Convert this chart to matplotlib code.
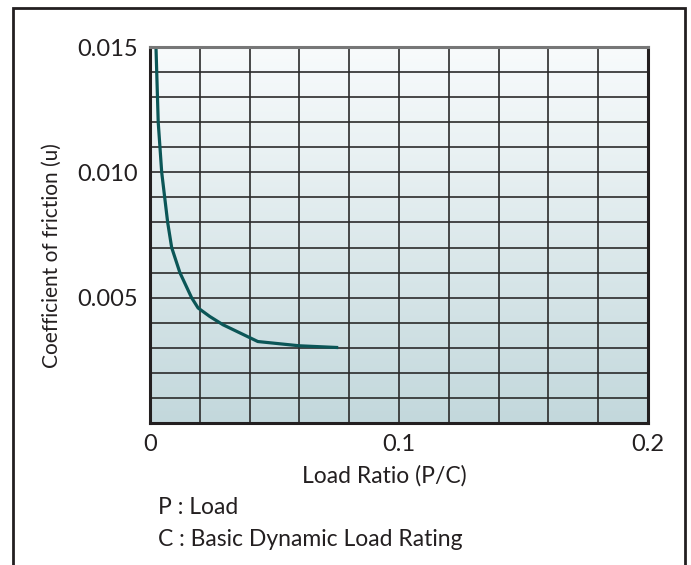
import numpy as np
import matplotlib
matplotlib.use("Agg")
import matplotlib.pyplot as plt
from matplotlib.colors import LinearSegmentedColormap
from matplotlib.patches import Rectangle

plt.rcParams['font.family'] = ['Lato', 'DejaVu Sans']

# curve: load ratio (P/C) vs. coefficient of friction
load_ratio = [0.0024, 0.0027, 0.0033, 0.0047, 0.0071, 0.0087, 0.0120,
              0.0167, 0.0193, 0.0240, 0.0293, 0.0433, 0.0600, 0.0756]
friction = [0.0150, 0.0140, 0.0120, 0.0100, 0.0080, 0.0070, 0.0060,
            0.0050, 0.00459, 0.00425, 0.00392, 0.00325, 0.00308, 0.00301]

x_ticks = [0, 0.1, 0.2]
x_ticklabels = ["0", "0.1", "0.2"]
y_ticks = [0.005, 0.010, 0.015]
y_ticklabels = ["0.005", "0.010", "0.015"]

INK = "#231f20"
CURVE = "#0b5657"

W, H = 691, 565
fig = plt.figure(figsize=(W / 100, H / 100), dpi=100, facecolor="white")
ax = fig.add_axes([150 / W, 1 - 423 / H, (648 - 150) / W, (423 - 47) / H])

# vertical gradient background
cmap = LinearSegmentedColormap.from_list("bg", ["#c3d8dc", "#f8fbfc"])
grad = np.linspace(0, 1, 256).reshape(-1, 1)
ax.imshow(grad, cmap=cmap, aspect="auto", origin="lower",
          extent=[0, 1, 0, 1], transform=ax.transAxes, zorder=0)

ax.plot(load_ratio, friction, color=CURVE, lw=2.3, zorder=4,
        solid_capstyle="butt")

ax.set_xlim(0, 0.2)
ax.set_ylim(0, 0.015)
ax.set_xticks(x_ticks)
ax.set_xticklabels(x_ticklabels)
ax.set_yticks(y_ticks)
ax.set_yticklabels(y_ticklabels)
ax.set_xticks(np.arange(0, 0.2001, 0.02), minor=True)
ax.set_yticks(np.arange(0, 0.01501, 0.001), minor=True)
ax.grid(True, which="both", color="#2b2b2b", lw=1.2, zorder=2)
ax.set_axisbelow(False)
ax.tick_params(which="both", length=0, labelsize=17, colors=INK)
ax.tick_params(axis="x", pad=8)
ax.tick_params(axis="y", pad=9)

for s in ("left", "bottom", "right"):
    ax.spines[s].set_color(INK)
    ax.spines[s].set_linewidth(2.2)
ax.spines["top"].set_color("#777777")
ax.spines["top"].set_linewidth(2.2)
for sp in ax.spines.values():
    sp.set_zorder(5)

fig.text(52 / W, 1 - 256 / H, "Coefficient of friction (u)", fontsize=15,
         color=INK, rotation=90, ha="center", va="center")

fig.text(384 / W, 1 - 476 / H, "Load Ratio (P/C)", fontsize=16.5, color=INK,
         ha="center", va="center")
fig.text(158 / W, 1 - 508 / H, "P : Load", fontsize=16.5, color=INK,
         ha="left", va="center")
fig.text(158 / W, 1 - 539 / H, "C : Basic Dynamic Load Rating", fontsize=16.5,
         color=INK, ha="left", va="center")

# outer frame, open at the bottom edge
fig.add_artist(Rectangle((13 / W, -0.05), (685 - 13) / W, (H - 8) / H + 0.05,
                         transform=fig.transFigure, fill=False, lw=2,
                         ec=INK))

fig.savefig("out.png", dpi=100, facecolor="white")
